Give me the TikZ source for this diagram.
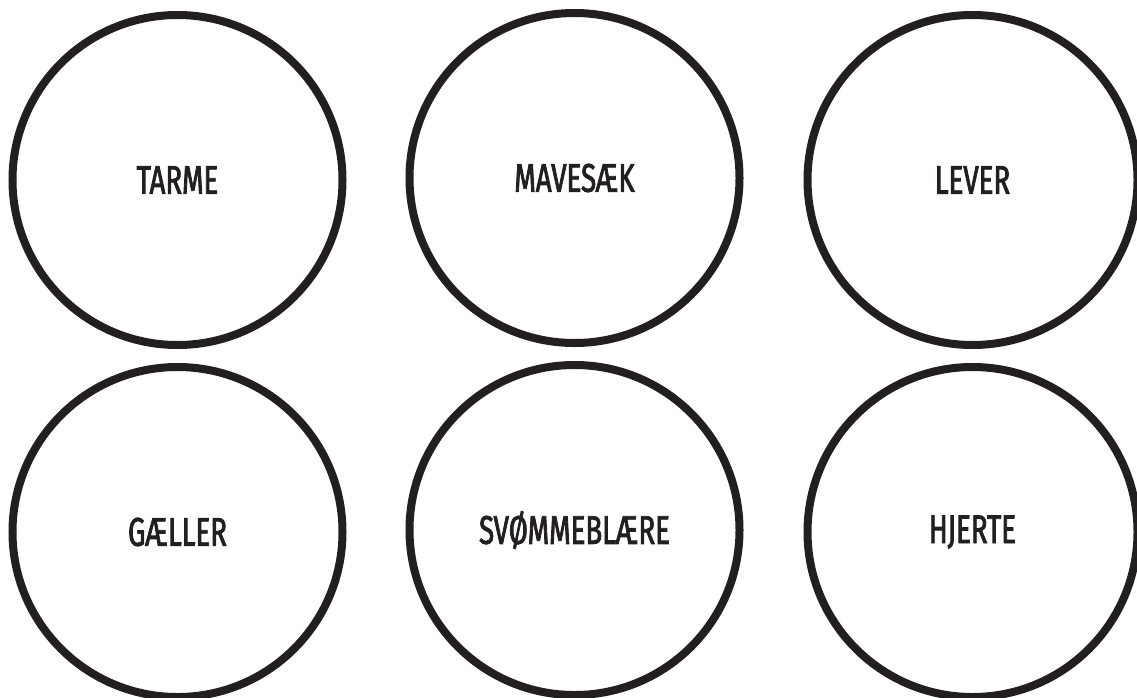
\documentclass[tikz,border=0pt]{standalone}
\usepackage{fontspec}
\newfontfamily\organfont[FakeStretch=0.69, FakeBold=2]{Fira Sans}
\definecolor{cInk}{HTML}{231F20}

\begin{document}
\begin{tikzpicture}[
    x=1pt, y=-1pt,
    organ/.style={circle, draw=cInk, line width=8pt, minimum size=330pt,
                  inner sep=0pt, text=cInk,
                  font=\organfont\fontsize{40}{40}\selectfont},
]

% ===================== Ramme =====================
\useasboundingbox (0,0) rectangle (1137,697);
\clip (0,0) rectangle (1137,697);

% ===================== Organer =====================
\foreach \n/\x/\y/\t in {tarme/177.5/180/{TARME},
                         mavesaek/574.5/178/{MAVESÆK},
                         lever/972.5/180/{LEVER},
                         gaeller/177.5/532/{GÆLLER},
                         svoemmeblaere/574.5/530/{SVØMMEBLÆRE},
                         hjerte/972.5/532/{HJERTE}} {
    \node[organ] (\n) at (\x,\y) {\t};
}

\end{tikzpicture}
\end{document}
